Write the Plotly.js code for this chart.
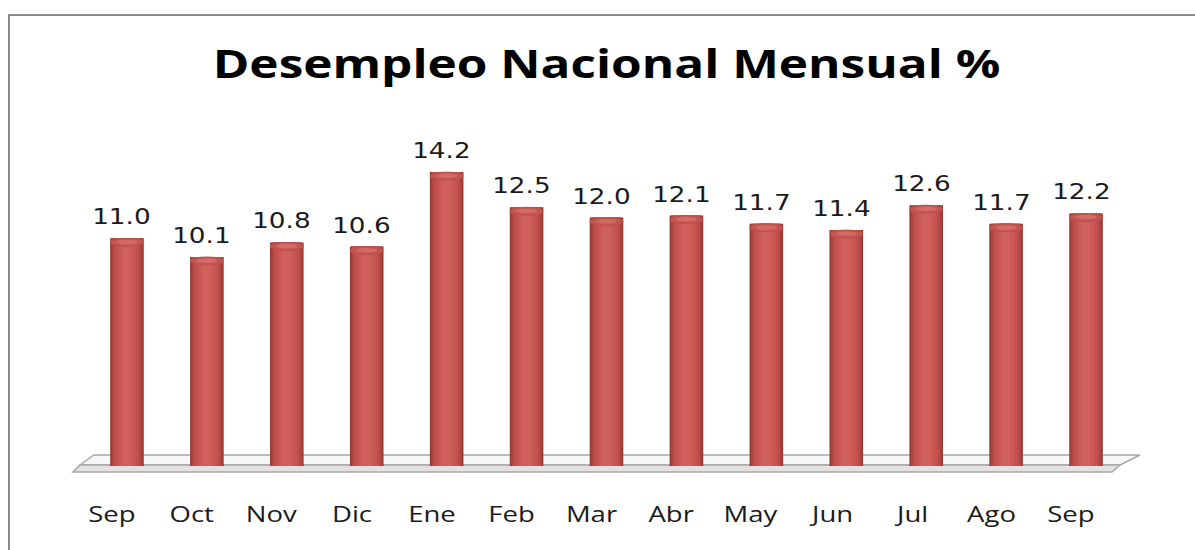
<!DOCTYPE html>
<html><head><meta charset="utf-8">
<script src="https://cdn.plot.ly/plotly-3.0.1.min.js"></script>
<style>
html,body{margin:0;padding:0;background:#fff}#chart{width:1195px;height:550px}
#chart .annotation-text{
  transform-box: fill-box; transform-origin: center; transform: scaleX(1.25);
}
#chart .gtitle{
  transform-box: fill-box; transform-origin: center; transform: scaleX(1.27);
}
</style>
</head><body><div id="chart"></div>
<script>
const months = ["Sep","Oct","Nov","Dic","Ene","Feb","Mar","Abr","May","Jun","Jul","Ago","Sep"];
const rates = [11.0,10.1,10.8,10.6,14.2,12.5,12.0,12.1,11.7,11.4,12.6,11.7,12.2];
const chartTitle = "Desempleo Nacional Mensual %";

const W = 1195, H = 550;
const L = 87, R = 1126, T = 94, B = 466;
const yMax = (B - T) / 20.7;
const xIdx = months.map((m, i) => i);
const px2x = p => (p - L) / (R - L);
const px2y = p => (B - p) / (B - T);

// cylinder shading layers (width, colour)
const layers = [
  [0.42, "#9C3532"], [0.385, "#AD423E"], [0.34, "#BA4C48"],
  [0.28, "#C4534F"], [0.20, "#CB5955"], [0.11, "#D0605C"]
];
const traces = layers.map(([w, c]) => ({
  type: "bar", x: xIdx, y: rates, width: w,
  marker: {color: c, line: {width: 0}}, hoverinfo: "skip", showlegend: false
}));

const capH = 4 / 20.7;
const shapes = [];
// border
shapes.push({type: "rect", xref: "paper", yref: "paper", x0: px2x(9), x1: px2x(1240), y0: px2y(600), y1: px2y(15),
  line: {color: "#8A8A8A", width: 2}, fillcolor: "rgba(0,0,0,0)", layer: "below"});
// floor
const fx = p => px2x(p).toFixed(5), fy = p => px2y(p).toFixed(5);
shapes.push({type: "path", xref: "paper", yref: "paper", layer: "below",
  path: `M${fx(94)},${fy(455)} L${fx(1140)},${fy(455)} L${fx(1120)},${fy(465)} L${fx(80)},${fy(465)} Z`,
  fillcolor: "#F7F7F7", line: {color: "#A8A8A8", width: 1.5}});
shapes.push({type: "path", xref: "paper", yref: "paper", layer: "below",
  path: `M${fx(80)},${fy(465)} L${fx(1120)},${fy(465)} L${fx(1112)},${fy(472)} L${fx(73)},${fy(472)} Z`,
  fillcolor: "#E2E2E2", line: {color: "#A8A8A8", width: 1.5}});
// cylinder caps
rates.forEach((v, i) => {
  shapes.push({type: "circle", xref: "x", yref: "y", layer: "below",
    x0: i - 0.21, x1: i + 0.21, y0: -capH, y1: capH,
    fillcolor: "#A43B37", line: {width: 0}});
  shapes.push({type: "circle", xref: "x", yref: "y", layer: "above",
    x0: i - 0.21, x1: i + 0.21, y0: v - 2 * capH, y1: v,
    fillcolor: "#C45652", line: {color: "#B84E4A", width: 0.8}});
  shapes.push({type: "circle", xref: "x", yref: "y", layer: "above",
    x0: i - 0.13, x1: i + 0.13, y0: v - 1.5 * capH, y1: v - 0.35 * capH,
    fillcolor: "#D46A66", line: {width: 0}});
});

const valueLabels = rates.map((v, i) => ({
  x: i, y: v, xref: "x", yref: "y", text: v.toFixed(1), showarrow: false,
  yanchor: "bottom", yshift: 7, xshift: -5,
  font: {family: "DejaVu Sans", size: 21, color: "#1a1a1a"}
}));
const monthLabels = months.map((m, i) => ({
  x: i, y: px2y(513), xref: "x", yref: "paper", text: m, showarrow: false,
  yanchor: "middle", xanchor: "center", xshift: -15,
  font: {family: "Open Sans", size: 22, color: "#1a1a1a"}
}));

const layout = {
  width: W, height: H,
  margin: {l: L, r: W - R, t: T, b: H - B},
  paper_bgcolor: "#ffffff", plot_bgcolor: "rgba(0,0,0,0)",
  barmode: "overlay",
  title: {text: "<b>" + chartTitle + "</b>", x: 0.5, xanchor: "center", xref: "paper",
    y: 1 - 64 / H, yanchor: "middle", yref: "container",
    font: {family: "Open Sans", size: 39, color: "#000"}},
  xaxis: {type: "linear", range: [-0.5, months.length - 0.5], tickvals: xIdx,
    showticklabels: false, showgrid: false, zeroline: false, showline: false, ticks: "", fixedrange: true},
  yaxis: {range: [0, yMax], visible: false, fixedrange: true},
  shapes: shapes, annotations: valueLabels.concat(monthLabels), showlegend: false
};
Plotly.newPlot("chart", traces, layout, {staticPlot: true, displayModeBar: false});
</script></body></html>
